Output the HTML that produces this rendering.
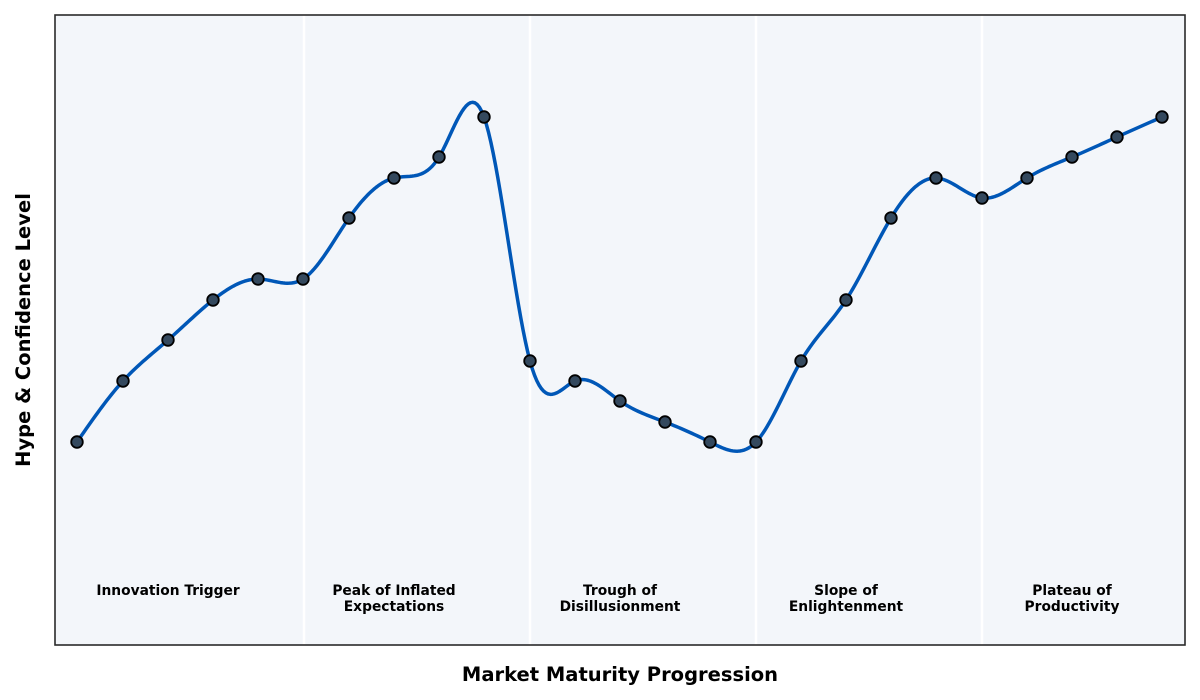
<!DOCTYPE html>
<html><head><meta charset="utf-8"><style>
html,body{margin:0;padding:0;background:#fff;width:1200px;height:700px;overflow:hidden}
svg{display:block;font-family:"DejaVu Sans","Liberation Sans",sans-serif}
</style></head><body>
<svg id="s" width="1200" height="700" viewBox="0 0 1200 700">
<rect x="55" y="15" width="1130" height="630" fill="#f3f6fa"/>
<g stroke="#fff" stroke-width="2.5">
<line x1="304" y1="15" x2="304" y2="645"/><line x1="530" y1="15" x2="530" y2="645"/>
<line x1="756" y1="15" x2="756" y2="645"/><line x1="982" y1="15" x2="982" y2="645"/>
</g>
<path id="curve" fill="none" stroke="#0057b7" stroke-width="3.5" stroke-linejoin="round"/>
<g id="pts" fill="#34495e" stroke="#000" stroke-width="1.8"></g>
<g font-size="13.8" font-weight="bold" text-anchor="middle" fill="#000">
<text x="168" y="595">Innovation Trigger</text>
<text x="394" y="595">Peak of Inflated</text><text x="394" y="611">Expectations</text>
<text x="620" y="595">Trough of</text><text x="620" y="611">Disillusionment</text>
<text x="846" y="595">Slope of</text><text x="846" y="611">Enlightenment</text>
<text x="1072" y="595">Plateau of</text><text x="1072" y="611">Productivity</text>
</g>
<rect x="55" y="15" width="1130" height="630" fill="none" stroke="#2a2a2a" stroke-width="1.6"/>
<text x="620" y="681" font-size="19.5" font-weight="bold" text-anchor="middle">Market Maturity Progression</text>
<text transform="translate(30,330) rotate(-90)" font-size="19.5" font-weight="bold" text-anchor="middle">Hype &amp; Confidence Level</text>
</svg>
<script>
var X=[77,123,168,213,258,303,349,394,439,484,530,575,620,665,710,756,801,846,891,936,982,1027,1072,1117,1162];
var Y=[442,381,340,300,279,279,218,178,157,117,361,381,401,422,442,442,361,300,218,178,198,178,157,137,117];
var n=X.length,h=[];
for(var i=0;i<n-1;i++)h[i]=X[i+1]-X[i];
var al=[],l=[1],mu=[0],z=[0];
for(i=1;i<n-1;i++)al[i]=3/h[i]*(Y[i+1]-Y[i])-3/h[i-1]*(Y[i]-Y[i-1]);
for(i=1;i<n-1;i++){l[i]=2*(X[i+1]-X[i-1])-h[i-1]*mu[i-1];mu[i]=h[i]/l[i];z[i]=(al[i]-h[i-1]*z[i-1])/l[i];}
var c=new Array(n).fill(0),b=[],d=[];
for(var j=n-2;j>=0;j--){c[j]=(j>0?z[j]:0)-mu[j]*c[j+1];b[j]=(Y[j+1]-Y[j])/h[j]-h[j]*(c[j+1]+2*c[j])/3;d[j]=(c[j+1]-c[j])/(3*h[j]);}
var p="M"+X[0]+","+Y[0];
for(i=0;i<n-1;i++)for(var k=1;k<=20;k++){var t=h[i]*k/20;p+=" L"+(X[i]+t).toFixed(2)+","+(Y[i]+b[i]*t+c[i]*t*t+d[i]*t*t*t).toFixed(2);}
document.getElementById("curve").setAttribute("d",p);
var g=document.getElementById("pts"),s="";
for(i=0;i<n;i++)s+='<circle cx="'+X[i]+'" cy="'+Y[i]+'" r="5.8"/>';
g.innerHTML=s;
</script>
</body></html>
